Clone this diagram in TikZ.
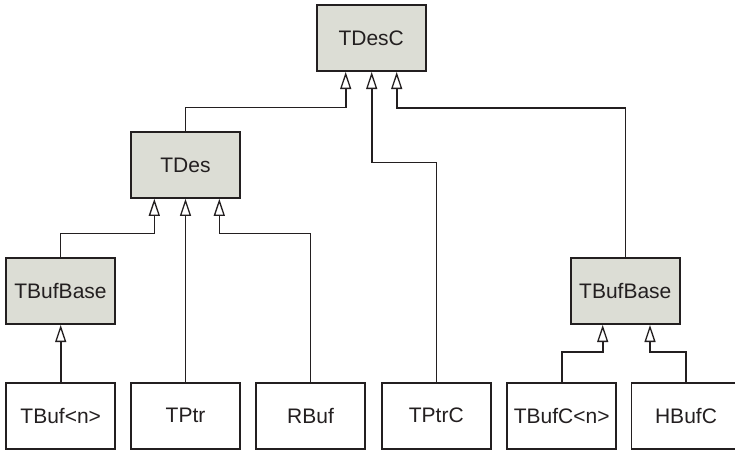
\documentclass[tikz,border=0pt]{standalone}
\usepackage{fontspec}
\setmainfont{Liberation Sans}
\usetikzlibrary{arrows.meta}
\definecolor{boxgray}{RGB}{220,221,213}
\definecolor{ink}{RGB}{35,31,32}
\tikzset{
  cls/.style={draw=ink, line width=1.6pt, minimum width=109pt, minimum height=66pt,
    inner sep=0pt, font=\fontsize{21}{25}\selectfont, text=ink},
  base/.style={cls, fill=boxgray},
  leaf/.style={cls, fill=white},
  inh/.style={draw=ink, line width=1.6pt, -{Triangle[length=17pt,width=11pt,fill=white,line width=1.3pt]}},
}
\begin{document}
\begin{tikzpicture}[x=1pt,y=-1pt]
\clip (0,0) rectangle (735,452);
\fill[white] (0,0) rectangle (735,452);
\node[base] (TDesC) at (371.2,38.2) {TDesC};
\node[base] (TDes) at (185.5,165) {TDes};
\node[base] (TBBL) at (60.5,291.2) {TBufBase};
\node[base] (TBBR) at (625.3,291.2) {TBufBase};
\node[leaf] (TBufn) at (60.7,415.7) {TBuf<n>};
\node[leaf] (TPtr) at (185.5,415.7) {TPtr};
\node[leaf] (RBuf) at (310.5,415.7) {RBuf};
\node[leaf] (TPtrC) at (436.3,415.7) {TPtrC};
\node[leaf] (TBufCn) at (561.7,415.7) {TBufC<n>};
\node[leaf] (HBufC) at (686,415.7) {HBufC};

\draw[inh] (TDes.north) |- (345.7,107.5) -- (TDesC.south -| 345.7,0);
\draw[inh] (TPtrC.north) |- (371.7,162.3) -- (TDesC.south -| 371.7,0);
\draw[inh] (TBBR.north) |- (396.7,108) -- (TDesC.south -| 396.7,0);
\draw[inh] (TBBL.north) |- (154.3,233.3) -- (TDes.south -| 154.3,0);
\draw[inh] (TPtr.north) -- (TDes.south);
\draw[inh] (RBuf.north) |- (219.3,233.3) -- (TDes.south -| 219.3,0);
\draw[inh] (TBufn.north) -- (TBBL.south -| TBufn.north);
\draw[inh] (TBufCn.north) |- (602.7,351.7) -- (TBBR.south -| 602.7,0);
\draw[inh] (HBufC.north) |- (650,351.7) -- (TBBR.south -| 650,0);
\end{tikzpicture}
\end{document}
